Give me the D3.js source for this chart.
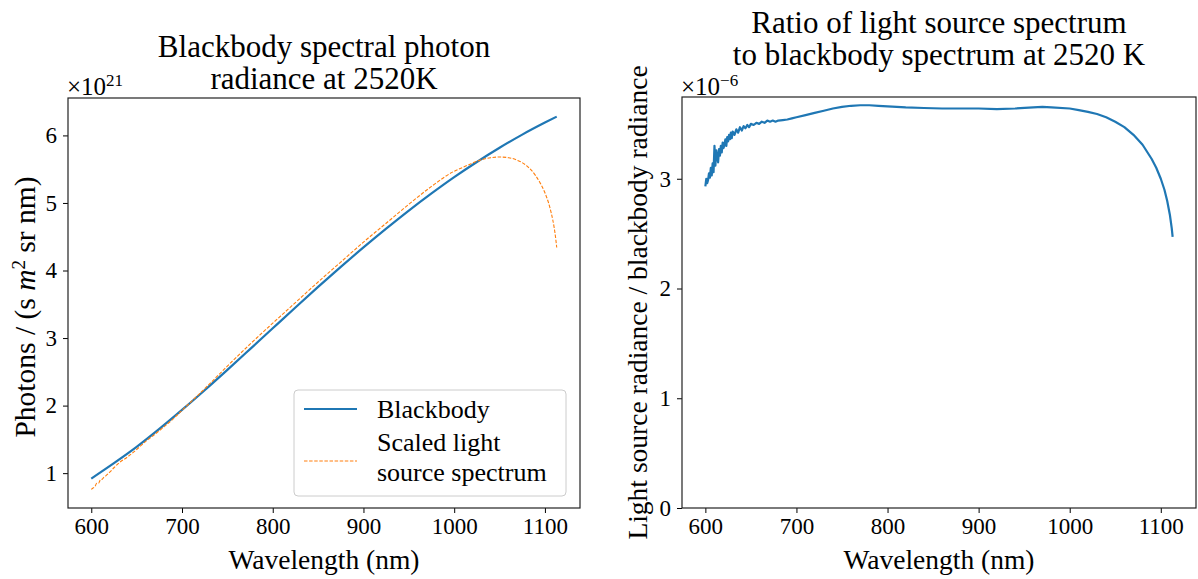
<!DOCTYPE html>
<html><head><meta charset="utf-8">
<script src="https://cdn.jsdelivr.net/npm/d3@7"></script>
<style>
body{margin:0;background:#fff;}
text{font-family:"Liberation Serif","Times New Roman",serif;fill:#000;}
</style></head>
<body><svg id="chart" width="1198" height="579"></svg>
<script>
// ---- data ----
const bbWavelength = [600,625,650,675,700,725,750,775,800,825,850,875,900,925,950,975,1000,1025,1050,1075,1100,1113];
const bbRadiance   = [0.92,1.148,1.389,1.655,1.936,2.228,2.529,2.836,3.145,3.453,3.757,4.053,4.342,4.620,4.888,5.142,5.383,5.607,5.817,6.012,6.190,6.278];

const lsWavelength = [600,602,604,606,608,610,612,614,616,620,625,630,640,650,660,670,680,690,700,725,750,775,800,825,850,875,900,925,950,975,1000,1010,1020,1030,1040,1050,1060,1070,1080,1090,1095,1100,1104,1107,1110,1112,1113];
const lsRadiance   = [0.76,0.78,0.80,0.85,0.85,0.90,0.91,0.94,0.96,1.01,1.08,1.145,1.24,1.35,1.47,1.575,1.685,1.80,1.93,2.25,2.585,2.91,3.22,3.525,3.83,4.125,4.42,4.70,4.98,5.245,5.47,5.53,5.59,5.64,5.67,5.68,5.67,5.63,5.55,5.40,5.29,5.15,5.00,4.85,4.65,4.46,4.34];

const ratioWavelength = [600,601,602,603,604,605,606,607,608,609,610,611,612,613,614,615,616,617,618,619,620,621,622,623,624,625,626,627,628,629,630,632,634,636,638,640,642,644,646,648,650,653,656,659,662,665,668,671,674,677,680,685,690,695,700,710,720,730,740,750,760,770,780,790,800,820,840,860,880,900,920,940,960,970,980,1000,1010,1020,1030,1040,1050,1060,1070,1080,1090,1095,1100,1104,1107,1110,1112,1113];
const ratioValue = [2.93,3.00,2.96,2.99,3.05,3.01,3.10,3.03,3.14,3.06,3.30,3.12,3.26,3.20,3.15,3.27,3.21,3.30,3.24,3.33,3.28,3.31,3.36,3.30,3.38,3.34,3.40,3.36,3.42,3.37,3.43,3.40,3.45,3.42,3.47,3.44,3.48,3.46,3.49,3.47,3.50,3.49,3.51,3.50,3.52,3.51,3.53,3.52,3.53,3.52,3.53,3.535,3.54,3.55,3.56,3.58,3.60,3.62,3.64,3.655,3.665,3.67,3.67,3.665,3.66,3.65,3.645,3.64,3.64,3.64,3.635,3.64,3.65,3.655,3.65,3.64,3.625,3.61,3.59,3.56,3.52,3.47,3.40,3.31,3.18,3.10,3.00,2.90,2.80,2.67,2.55,2.47];

const xTicks = [600,700,800,900,1000,1100];
const leftYTicks = [1,2,3,4,5,6];
const rightYTicks = [0,1,2,3];

// ---- drawing ----
const svg = d3.select("#chart");
const blue = "#1f77b4", orange = "#ff7f0e";
const FONT = '"Liberation Serif","Times New Roman",serif';

function pad(ext){const m=(ext[1]-ext[0])*0.05;return [ext[0]-m, ext[1]+m];}

function panel(box, xDom, yDom, yTicks){
  const x = d3.scaleLinear().domain(xDom).range([box.l, box.r]);
  const y = d3.scaleLinear().domain(yDom).range([box.b, box.t]);
  const g = svg.append("g");
  const xa = g.append("g").attr("transform",`translate(0,${box.b})`)
    .call(d3.axisBottom(x).tickValues(xTicks).tickSize(5).tickPadding(5).tickFormat(d3.format("d")));
  const ya = g.append("g").attr("transform",`translate(${box.l},0)`)
    .call(d3.axisLeft(y).tickValues(yTicks).tickSize(5).tickPadding(6).tickFormat(d3.format("d")));
  [xa,ya].forEach(a=>{a.attr("font-family",FONT).attr("font-size",null);
    a.select(".domain").remove();
    a.selectAll("line").attr("stroke","#000").attr("stroke-width",1);
    a.selectAll("text").style("font-size","23px").style("font-family",FONT);});
  return {x,y,g};
}

const L = {l:68,r:580,t:98,b:508};
const R = {l:682,r:1196,t:97,b:508};
const xDomain = pad(d3.extent(bbWavelength));

// left panel
const pl = panel(L, xDomain, pad([d3.min(lsRadiance), d3.max(bbRadiance)]), leftYTicks);
const lineL = d3.line().x(d=>pl.x(d[0])).y(d=>pl.y(d[1])).curve(d3.curveMonotoneX);
pl.g.append("path").datum(d3.zip(bbWavelength,bbRadiance)).attr("d",lineL)
  .attr("fill","none").attr("stroke",blue).attr("stroke-width",2.2);
pl.g.append("path").datum(d3.zip(lsWavelength,lsRadiance)).attr("d",lineL)
  .attr("fill","none").attr("stroke",orange).attr("stroke-width",1.1).attr("stroke-dasharray","3.5,1.6");
pl.g.append("rect").attr("x",L.l).attr("y",L.t).attr("width",L.r-L.l).attr("height",L.b-L.t)
  .attr("fill","none").attr("stroke","#222").attr("stroke-width",1.2);

// right panel
const pr = panel(R, xDomain, [0, 3.745], rightYTicks);
const lineR = d3.line().x(d=>pr.x(d[0])).y(d=>pr.y(d[1]));
pr.g.append("path").datum(d3.zip(ratioWavelength,ratioValue)).attr("d",lineR)
  .attr("fill","none").attr("stroke",blue).attr("stroke-width",2.2).attr("stroke-linejoin","round");
pr.g.append("rect").attr("x",R.l).attr("y",R.t).attr("width",R.r-R.l).attr("height",R.b-R.t)
  .attr("fill","none").attr("stroke","#222").attr("stroke-width",1.2);

// titles
function title(cx, lines, y0){
  lines.forEach((s,i)=>svg.append("text").attr("x",cx).attr("y",y0+i*32).attr("text-anchor","middle")
    .style("font-size","31px").text(s));
}
title((L.l+L.r)/2, ["Blackbody spectral photon","radiance at 2520K"], 57);
title((R.l+R.r)/2, ["Ratio of light source spectrum","to blackbody spectrum at 2520 K"], 33);

// axis labels
svg.append("text").attr("x",(L.l+L.r)/2).attr("y",569).attr("text-anchor","middle").style("font-size","27.5px").text("Wavelength (nm)");
svg.append("text").attr("x",(R.l+R.r)/2).attr("y",569).attr("text-anchor","middle").style("font-size","27.5px").text("Wavelength (nm)");
const yl = svg.append("text").attr("transform",`translate(35,${(L.t+L.b)/2+4}) rotate(-90)`).attr("text-anchor","middle").style("font-size","29.5px");
yl.append("tspan").text("Photons / (s ");
yl.append("tspan").style("font-style","italic").text("m");
yl.append("tspan").attr("baseline-shift","super").style("font-size","19px").text("2");
yl.append("tspan").text(" sr nm)");
svg.append("text").attr("transform",`translate(647,${(R.t+R.b)/2}) rotate(-90)`).attr("text-anchor","middle").style("font-size","27.5px").text("Light source radiance / blackbody radiance");

// offset texts
function offset(x, exp){
  const t = svg.append("text").attr("x",x).attr("y",95).style("font-size","25px");
  t.append("tspan").text("\u00d710");
  t.append("tspan").attr("baseline-shift","super").style("font-size","17px").text(exp);
}
offset(L.l-1, "21");
offset(R.l-1, "\u22126");

// legend
const lg = svg.append("g");
lg.append("rect").attr("x",294).attr("y",390).attr("width",272).attr("height",106).attr("rx",4)
  .attr("fill","#fff").attr("fill-opacity",0.8).attr("stroke","#ccc").attr("stroke-width",1);
lg.append("line").attr("x1",304).attr("x2",357).attr("y1",409).attr("y2",409).attr("stroke",blue).attr("stroke-width",2.2);
lg.append("text").attr("x",377).attr("y",418).style("font-size","26px").text("Blackbody");
lg.append("line").attr("x1",304).attr("x2",357).attr("y1",461).attr("y2",461).attr("stroke",orange).attr("stroke-width",1.1).attr("stroke-dasharray","3.5,1.6");
lg.append("text").attr("x",377).attr("y",451).style("font-size","26px").text("Scaled light");
lg.append("text").attr("x",377).attr("y",481).style("font-size","26px").text("source spectrum");
</script></body></html>
